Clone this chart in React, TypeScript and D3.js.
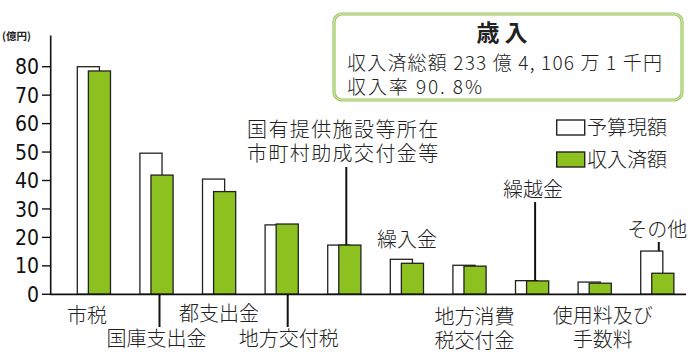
import React, { useEffect, useRef } from "react";
import * as d3 from "d3";

const categories = [
  "市税",
  "国庫支出金",
  "都支出金",
  "地方交付税",
  "国有提供施設等所在市町村助成交付金等",
  "繰入金",
  "地方消費税交付金",
  "繰越金",
  "使用料及び手数料",
  "その他",
];

// 予算現額 (億円)
const budget = [80.0, 49.6, 40.5, 24.4, 17.3, 12.3, 10.2, 4.8, 4.3, 15.2];
// 収入済額 (億円)
const actual = [78.5, 41.9, 36.1, 24.7, 17.3, 10.9, 9.9, 4.7, 3.9, 7.4];

const yTicks = [0, 10, 20, 30, 40, 50, 60, 70, 80];

// label layout: text lines, x offset from group center, y of first line, optional leader
const labelLayout = [
  { lines: ["市税"], dx: -7, y: 316 },
  { lines: ["国庫支出金"], dx: 0, y: 339, leader: { dx: 3, y: 327, below: true } },
  { lines: ["都支出金"], dx: 0, y: 314 },
  { lines: ["地方交付税"], dx: 7, y: 339, leader: { dx: 6, y: 327, below: true } },
  { lines: ["国有提供施設等所在", "市町村助成交付金等"], dx: -1, y: 130, leader: { dx: 2, y: 167, below: false } },
  { lines: ["繰入金"], dx: 0, y: 240 },
  { lines: ["地方消費", "税交付金"], dx: 5, y: 317 },
  { lines: ["繰越金"], dx: 1, y: 190, leader: { dx: 3, y: 202, below: false } },
  { lines: ["使用料及び", "手数料"], dx: 8, y: 316 },
  { lines: ["その他"], dx: 0, y: 230, leader: { dx: 1.5, y: 242, below: false } },
];

const GREEN = "#8cc11f";
const JP = "'Noto Sans CJK JP', 'Noto Sans', sans-serif";

const App: React.FC = () => {
  const svgRef = useRef<SVGSVGElement | null>(null);

  useEffect(() => {
    if (!svgRef.current) return;
    const width = 690;
    const height = 358;

    d3.select(svgRef.current).selectAll("*").remove();
    const svg = d3.select(svgRef.current).attr("width", width).attr("height", height);

    const x = d3
      .scaleBand()
      .domain(categories)
      .range([62.6, 688.6])
      .paddingInner(0.47)
      .paddingOuter(0.235);

    const y = d3.scaleLinear().domain([0, 80]).range([294.3, 66.7]);
    const bw = x.bandwidth();
    const barW = (bw * 2) / 3;

    // y axis
    svg.append("line")
      .attr("x1", 50.7).attr("x2", 50.7)
      .attr("y1", y(0)).attr("y2", y(91))
      .attr("stroke", "#111").attr("stroke-width", 1.6);

    const ticks = svg.append("g");
    ticks.selectAll("line")
      .data(yTicks)
      .enter()
      .append("line")
      .attr("x1", 42).attr("x2", 50.7)
      .attr("y1", (d) => y(d)).attr("y2", (d) => y(d))
      .attr("stroke", "#111").attr("stroke-width", 1.4);
    ticks.selectAll("text")
      .data(yTicks)
      .enter()
      .append("text")
      .attr("x", 39)
      .attr("y", (d) => y(d))
      .attr("dy", "0.36em")
      .attr("text-anchor", "end")
      .attr("font-family", "'Liberation Sans Narrow', 'DejaVu Sans Condensed', sans-serif")
      .attr("font-size", 21)
      .attr("fill", "#111")
      .text((d) => d);

    svg.append("text")
      .attr("x", 2).attr("y", 40)
      .attr("font-family", JP)
      .attr("font-size", 10.5)
      .attr("font-weight", "bold")
      .attr("fill", "#222")
      .text("(億円)");

    // bars
    const groups = svg.selectAll(".grp")
      .data(categories)
      .enter()
      .append("g")
      .attr("class", "grp")
      .attr("transform", (d) => `translate(${x(d)},0)`);

    groups.append("rect")
      .attr("x", 0)
      .attr("y", (_, i) => y(budget[i]))
      .attr("width", barW)
      .attr("height", (_, i) => y(0) - y(budget[i]))
      .attr("fill", "#fff")
      .attr("stroke", "#222")
      .attr("stroke-width", 1.3);

    groups.append("rect")
      .attr("x", bw / 3)
      .attr("y", (_, i) => y(actual[i]))
      .attr("width", barW)
      .attr("height", (_, i) => y(0) - y(actual[i]))
      .attr("fill", GREEN)
      .attr("stroke", "#222")
      .attr("stroke-width", 1.3);

    // baseline
    svg.append("line")
      .attr("x1", 50).attr("x2", 686)
      .attr("y1", y(0)).attr("y2", y(0))
      .attr("stroke", "#111").attr("stroke-width", 1.8);

    // category labels and leaders
    categories.forEach((c, i) => {
      const lay = labelLayout[i];
      const cx = (x(c) as number) + bw / 2;
      const t = svg.append("text")
        .attr("text-anchor", "middle")
        .attr("font-family", JP)
        .attr("font-size", 20)
        .attr("font-weight", 300)
        .attr("letter-spacing", i === 4 ? 1.4 : 0)
        .attr("fill", "#222");
      lay.lines.forEach((ln, j) => {
        t.append("tspan")
          .attr("x", cx + lay.dx)
          .attr("y", lay.y + j * 23.5)
          .attr("dy", "0.35em")
          .text(ln);
      });
      if (lay.leader) {
        const lx = cx + lay.leader.dx;
        // leaders above bars start at the taller bar under them
        const top = i === 9 ? y(budget[i]) : y(actual[i]);
        svg.append("line")
          .attr("x1", lx).attr("x2", lx)
          .attr("y1", lay.leader.below ? y(0) : top)
          .attr("y2", lay.leader.y)
          .attr("stroke", "#111").attr("stroke-width", 2);
      }
    });

    // legend
    const legend = [
      { label: "予算現額", fill: "#fff", y: 120 },
      { label: "収入済額", fill: GREEN, y: 152 },
    ];
    legend.forEach((l) => {
      svg.append("rect")
        .attr("x", 556.7).attr("y", l.y)
        .attr("width", 28).attr("height", 15)
        .attr("fill", l.fill)
        .attr("stroke", "#222").attr("stroke-width", 1.4);
      svg.append("text")
        .attr("x", 587).attr("y", l.y + 7.5)
        .attr("dy", "0.35em")
        .attr("font-family", JP)
        .attr("font-size", 20)
        .attr("font-weight", 300)
        .attr("fill", "#222")
        .text(l.label);
    });

    // summary box
    svg.append("rect")
      .attr("x", 334).attr("y", 14)
      .attr("width", 348).attr("height", 86)
      .attr("rx", 8)
      .attr("fill", "#fff")
      .attr("stroke", "#9cc65a").attr("stroke-width", 3.2);
    svg.append("rect")
      .attr("x", 334).attr("y", 14)
      .attr("width", 348).attr("height", 86)
      .attr("rx", 8)
      .attr("fill", "none")
      .attr("stroke", "#eef6e0").attr("stroke-width", 0.8);

    svg.append("text")
      .attr("x", 502).attr("y", 33)
      .attr("dy", "0.35em")
      .attr("text-anchor", "middle")
      .attr("font-family", JP)
      .attr("font-size", 23)
      .attr("font-weight", "bold")
      .attr("fill", "#222")
      .text("歳 入");
    svg.append("text")
      .attr("x", 347).attr("y", 63)
      .attr("dy", "0.35em")
      .attr("font-family", JP)
      .attr("font-size", 19)
      .attr("font-weight", 300)
      .attr("textLength", 315)
      .attr("fill", "#222")
      .text("収入済総額 233 億 4, 106 万 1 千円");
    svg.append("text")
      .attr("x", 347).attr("y", 87)
      .attr("dy", "0.35em")
      .attr("font-family", JP)
      .attr("font-size", 19)
      .attr("font-weight", 300)
      .attr("textLength", 135)
      .attr("fill", "#222")
      .text("収入率  90. 8%");
  }, []);

  return (
    <svg
      ref={svgRef}
      style={{ position: "absolute", left: 0, top: 0, display: "block", background: "#fff" }}
    ></svg>
  );
};

export default App;
